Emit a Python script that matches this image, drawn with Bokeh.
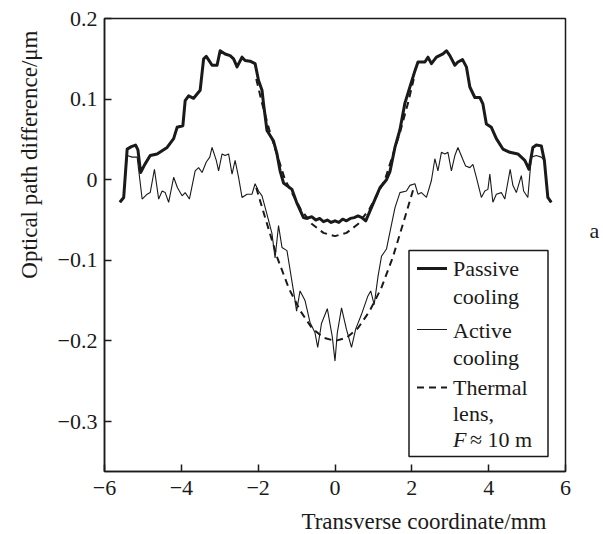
from bokeh.plotting import figure
from bokeh.models import FixedTicker, Range1d, Label, LinearAxis, Title
from bokeh.embed import file_html
from bokeh.resources import INLINE

# ---------------- data ----------------
passive_x = [-5.60, -5.50, -5.41, -5.30, -5.19, -5.13, -5.06, -4.95, -4.81, -4.63, -4.37, -4.20,
             -4.11, -3.96, -3.90, -3.81, -3.68, -3.51, -3.42, -3.35, -3.20, -3.07, -2.99, -2.86,
             -2.73, -2.64, -2.55, -2.42, -2.34, -2.21, -2.08, -1.99, -1.90, -1.86, -1.77, -1.60,
             -1.51, -1.43, -1.34, -1.12, -1.00, -0.82, -0.75, -0.60, -0.50, -0.40, -0.30, -0.20,
             -0.10, 0.00, 0.10, 0.20, 0.30, 0.40, 0.50, 0.60, 0.70, 0.80, 0.99, 1.17, 1.34, 1.43,
             1.56, 1.69, 1.82, 1.95, 2.08, 2.16, 2.34, 2.42, 2.51, 2.64, 2.81, 2.90, 2.99, 3.12,
             3.20, 3.32, 3.42, 3.51, 3.64, 3.77, 3.85, 3.94, 4.07, 4.20, 4.37, 4.55, 4.76, 4.94,
             5.05, 5.15, 5.24, 5.37, 5.45, 5.54, 5.63]
passive_y = [-0.028, -0.022, 0.038, 0.041, 0.043, 0.037, 0.009, 0.019, 0.030, 0.032, 0.040, 0.051,
             0.065, 0.067, 0.098, 0.104, 0.101, 0.111, 0.150, 0.153, 0.142, 0.142, 0.160, 0.156,
             0.154, 0.150, 0.140, 0.152, 0.148, 0.147, 0.144, 0.123, 0.111, 0.094, 0.061, 0.048,
             0.032, 0.011, -0.004, -0.012, -0.028, -0.047, -0.048, -0.046, -0.050, -0.048, -0.052, -0.050,
             -0.053, -0.051, -0.053, -0.049, -0.051, -0.048, -0.047, -0.045, -0.047, -0.051, -0.030, -0.010, 0.000, 0.010,
             0.040, 0.062, 0.095, 0.115, 0.135, 0.146, 0.146, 0.152, 0.144, 0.152, 0.156, 0.160, 0.154, 0.142,
             0.146, 0.149, 0.140, 0.115, 0.102, 0.102, 0.094, 0.069, 0.065, 0.051, 0.038, 0.034, 0.032, 0.024,
             0.013, 0.040, 0.043, 0.042, 0.024, -0.022, -0.028]

active_x = [-5.60, -5.50, -5.41, -5.28, -5.15, -5.02, -4.89, -4.81, -4.70, -4.59, -4.50, -4.42,
            -4.33, -4.20, -4.10, -3.98, -3.90, -3.79, -3.64, -3.55, -3.46, -3.35, -3.26, -3.20,
            -3.09, -3.03, -2.94, -2.86, -2.77, -2.68, -2.60, -2.51, -2.42, -2.29, -2.16, -2.08,
            -1.99, -1.90, -1.77, -1.64, -1.56, -1.47, -1.38, -1.25, -1.04, -1.00, -0.91, -0.78,
            -0.65, -0.52, -0.45, -0.35, -0.20, -0.07, 0.00, 0.06, 0.17, 0.30, 0.43, 0.54, 0.69,
            0.85, 0.93, 1.02, 1.12, 1.21, 1.34, 1.43, 1.56, 1.69, 1.86, 1.95, 2.08, 2.16, 2.25,
            2.38, 2.51, 2.60, 2.68, 2.77, 2.86, 2.94, 3.03, 3.12, 3.20, 3.32, 3.40, 3.51, 3.59,
            3.68, 3.81, 3.90, 3.98, 4.03, 4.11, 4.20, 4.33, 4.42, 4.56, 4.63, 4.72, 4.85, 4.91,
            5.02, 5.11, 5.24, 5.37, 5.45, 5.54, 5.63]
active_y = [-0.028, -0.022, 0.030, 0.028, 0.028, -0.024, -0.018, -0.016, 0.013, -0.024, -0.014, -0.016,
            -0.028, 0.003, -0.010, -0.020, -0.016, -0.024, 0.011, 0.015, 0.009, 0.022, 0.028, 0.040,
            0.024, 0.011, 0.032, 0.030, 0.032, 0.007, 0.024, 0.003, -0.022, -0.018, -0.018, -0.005,
            -0.014, -0.020, -0.043, -0.067, -0.097, -0.057, -0.084, -0.088, -0.150, -0.163, -0.138, -0.150,
            -0.177, -0.190, -0.208, -0.178, -0.160, -0.195, -0.225, -0.190, -0.159, -0.186, -0.208, -0.185, -0.167,
            -0.145, -0.138, -0.155, -0.120, -0.095, -0.086, -0.065, -0.035, -0.016, -0.014, -0.007, -0.005, -0.018, -0.016,
            -0.022, -0.001, 0.026, 0.011, 0.034, 0.032, 0.034, 0.011, 0.030, 0.040, 0.026, 0.017, 0.015, 0.019,
            0.003, -0.022, -0.014, -0.012, 0.007, -0.028, -0.018, -0.016, -0.024, 0.013, -0.007, -0.016, 0.005, -0.014,
            -0.022, 0.028, 0.030, 0.028, 0.024, -0.022, -0.028]

lens_passive_x = [-2.05, -1.90, -1.70, -1.50, -1.30, -1.10, -0.90, -0.60, -0.30, 0.00,
                  0.30, 0.60, 0.90, 1.10, 1.30, 1.50, 1.70, 1.90, 2.05]
lens_passive_y = [0.125, 0.095, 0.060, 0.030, 0.000, -0.018, -0.036, -0.055, -0.066, -0.070,
                  -0.066, -0.055, -0.036, -0.018, 0.000, 0.030, 0.060, 0.095, 0.125]

lens_active_x = [-2.05, -1.80, -1.50, -1.20, -0.90, -0.60, -0.30, 0.00,
                 0.30, 0.60, 0.90, 1.20, 1.50, 1.80, 2.05]
lens_active_y = [-0.010, -0.050, -0.097, -0.135, -0.163, -0.184, -0.196, -0.200,
                 -0.196, -0.184, -0.163, -0.135, -0.097, -0.050, -0.010]

x_ticks = [-6, -4, -2, 0, 2, 4, 6]
x_tick_labels = ["\u22126", "\u22124", "\u22122", "0", "2", "4", "6"]
y_ticks = [-0.3, -0.2, -0.1, 0, 0.1, 0.2]
y_tick_labels = ["\u22120.3", "\u22120.2", "\u22120.1", "0", "0.1", "0.2"]

legend_labels = [["Passive", "cooling"], ["Active", "cooling"], ["Thermal", "lens,"]]

# ---------------- figure ----------------
FONT = "Liberation Serif"
FS = "22px"
FS_AX = "23px"
INK = "#1a1a1a"

X0, X1 = -6, 6
Y0, Y1 = -0.362, 0.2
FW, FH = 461, 453
LEFT, TOP = 104, 18

p = figure(frame_width=FW, frame_height=FH, x_range=Range1d(X0, X1), y_range=Range1d(Y0, Y1),
           output_backend="svg", toolbar_location=None,
           min_border_left=LEFT, min_border_right=603 - LEFT - FW, min_border_top=TOP,
           min_border_bottom=534 - TOP - FH)
p.xgrid.visible = False
p.ygrid.visible = False
p.outline_line_color = INK
p.outline_line_width = 1.5
p.outline_line_alpha = 1.0
p.background_fill_color = "white"
p.border_fill_color = "white"

def px2x(px):
    return X0 + (px - 104.5) / FW * (X1 - X0)

def py2y(py):
    return Y1 - (py - 18) / FH * (Y1 - Y0)

for ax, ticks, labels in ((p.xaxis, x_ticks, x_tick_labels), (p.yaxis, y_ticks, y_tick_labels)):
    ax.ticker = FixedTicker(ticks=ticks)
    ax.major_label_overrides = {t: l for t, l in zip(ticks, labels)}
    ax.major_tick_in = 7
    ax.major_tick_out = 0
    ax.minor_tick_line_color = None
    ax.axis_line_color = INK
    ax.axis_line_width = 1.5
    ax.major_tick_line_color = INK
    ax.major_tick_line_width = 1.5
    ax.major_label_text_font = FONT
    ax.major_label_text_font_size = FS
    ax.major_label_text_color = INK

p.xaxis.major_label_standoff = 9
p.yaxis.major_label_standoff = 7

# axis titles placed like the original (not centred on the frame)
p.add_layout(Title(text="Optical path difference/\u03bcm", align="right", offset=12, standoff=26,
                   text_font=FONT, text_font_size=FS_AX, text_font_style="normal",
                   text_color=INK), "left")
p.add_layout(Title(text="Transverse coordinate/mm", align="right", offset=19, standoff=18,
                   text_font=FONT, text_font_size=FS_AX, text_font_style="normal",
                   text_color=INK), "below")

# panel letter on the right
ax_a = LinearAxis(ticker=FixedTicker(ticks=[]), axis_label="a\n\u00a0",
                  axis_line_color=None, major_tick_line_color=None, minor_tick_line_color=None,
                  major_label_text_font_size="0px", axis_label_standoff=24,
                  axis_label_orientation="horizontal")
ax_a.axis_label_text_font = FONT
ax_a.axis_label_text_font_size = FS
ax_a.axis_label_text_font_style = "normal"
ax_a.axis_label_text_color = INK
p.add_layout(ax_a, "right")

# legend box (drawn first, below the data)
p.quad(left=px2x(409), right=px2x(548), top=py2y(250), bottom=py2y(456),
       fill_color="white", line_color=INK, line_width=1.5)

# data lines
p.line(lens_passive_x, lens_passive_y, line_color=INK, line_width=2, line_dash="7 5")
p.line(lens_active_x, lens_active_y, line_color=INK, line_width=2, line_dash="7 5")
p.line(active_x, active_y, line_color=INK, line_width=1.1)
p.line(passive_x, passive_y, line_color=INK, line_width=3, line_join="round")

# legend samples
sx = [px2x(417), px2x(447)]
p.line(sx, [py2y(268)] * 2, line_color=INK, line_width=3)
p.line(sx, [py2y(329)] * 2, line_color=INK, line_width=1.1)
p.line(sx, [py2y(387)] * 2, line_color=INK, line_width=2, line_dash="7 5")

line_rows = [[268, 296], [330, 357], [387, 413]]
for labs, rows in zip(legend_labels, line_rows):
    for t, r in zip(labs, rows):
        p.add_layout(Label(x=px2x(453), y=py2y(r), text=t, text_font=FONT, text_font_size=FS,
                           text_baseline="middle", text_align="left", text_color=INK))
p.add_layout(Label(x=px2x(453), y=py2y(439), text="F", text_font=FONT, text_font_size=FS,
                   text_font_style="italic", text_baseline="middle", text_color=INK))
p.add_layout(Label(x=px2x(470), y=py2y(439), text="\u2248 10 m", text_font=FONT, text_font_size=FS,
                   text_baseline="middle", text_color=INK))

open("out.html", "w").write(file_html(p, INLINE))
